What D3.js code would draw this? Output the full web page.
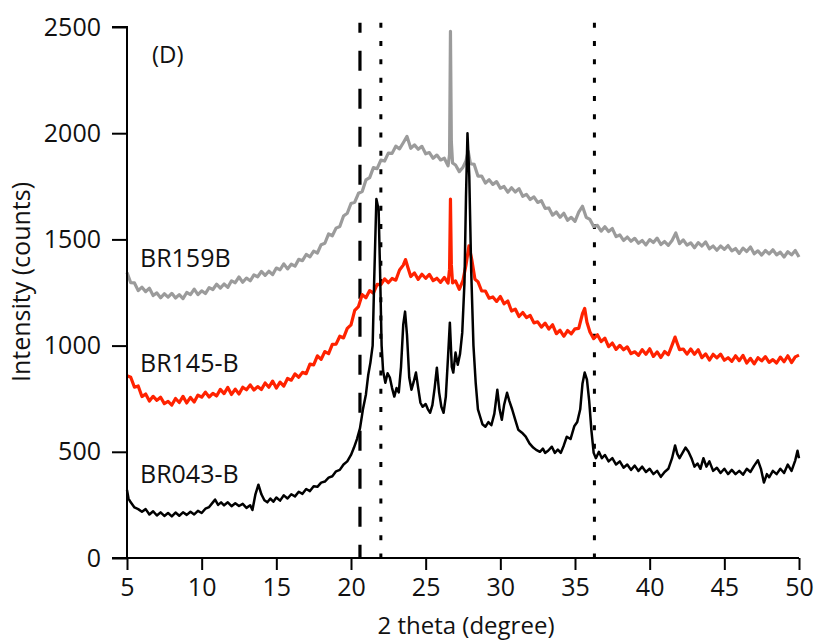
<!DOCTYPE html>
<html>
<head>
<meta charset="utf-8">
<script src="https://cdn.jsdelivr.net/npm/d3@7"></script>
<style>
  html, body { margin: 0; padding: 0; background: #ffffff; }
  svg { display: block; }
  text { font-family: "Open Sans", "Liberation Sans", sans-serif; fill: #111; }
</style>
</head>
<body>
<svg id="chart" width="816" height="644"></svg>
<script>
// ---------- data ----------
const seriesNames = ["BR159B", "BR145-B", "BR043-B"];
const xTicks = [5, 10, 15, 20, 25, 30, 35, 40, 45, 50];
const yTicks = [0, 500, 1000, 1500, 2000, 2500];
const panelLabel = "(D)";
const xTitle = "2 theta (degree)";
const yTitle = "Intensity (counts)";
const dashedRefLines = [20.6];
const dottedRefLines = [22.0, 36.3];

// BR159B [2theta, counts]
const br159b = [
[5.00,1344],[5.25,1296],[5.50,1295],[5.75,1259],[6.00,1275],[6.25,1254],[6.50,1270],[6.75,1236],
[7.00,1248],[7.25,1225],[7.50,1244],[7.75,1228],[8.00,1246],[8.25,1224],[8.50,1240],[8.75,1221],
[9.00,1250],[9.25,1240],[9.50,1266],[9.75,1240],[10.00,1258],[10.25,1245],[10.50,1273],[10.75,1264],
[11.00,1289],[11.25,1271],[11.50,1290],[11.75,1274],[12.00,1305],[12.25,1296],[12.50,1323],[12.75,1298],
[13.00,1318],[13.25,1305],[13.50,1333],[13.75,1324],[14.00,1349],[14.25,1331],[14.50,1350],[14.75,1334],
[15.00,1365],[15.25,1357],[15.50,1385],[15.75,1361],[16.00,1383],[16.25,1374],[16.50,1406],[16.75,1400],
[17.00,1429],[17.25,1418],[17.50,1445],[17.75,1436],[18.00,1475],[18.25,1482],[18.50,1526],[18.75,1517],
[19.00,1553],[19.25,1561],[19.50,1610],[19.75,1623],[20.00,1669],[20.25,1675],[20.50,1717],[20.75,1725],
[21.00,1780],[21.25,1791],[21.50,1838],[21.75,1833],[22.00,1873],[22.25,1869],[22.50,1906],[22.75,1905],
[23.00,1939],[23.25,1926],[23.50,1955],[23.75,1985],[24.00,1929],[24.25,1945],[24.50,1924],[24.75,1938],
[25.00,1903],[25.25,1909],[25.50,1882],[25.75,1897],[26.00,1874],[26.25,1882],[26.50,1846],[26.60,1900],
[26.66,2480],[26.72,1960],[26.80,1860],[27.00,1850],[27.25,1819],[27.50,1840],[27.70,1870],[27.85,1915],
[28.00,1856],[28.25,1853],[28.50,1798],[28.75,1798],[29.00,1765],[29.25,1781],[29.50,1759],[29.75,1772],
[30.00,1741],[30.25,1749],[30.50,1722],[30.75,1743],[31.00,1723],[31.25,1739],[31.50,1703],[31.75,1712],
[32.00,1688],[32.25,1700],[32.50,1674],[32.75,1682],[33.00,1646],[33.25,1648],[33.50,1614],[33.75,1629],
[34.00,1604],[34.25,1623],[34.50,1590],[34.75,1604],[35.00,1585],[35.25,1628],[35.50,1656],[35.75,1604],
[36.00,1594],[36.25,1561],[36.50,1566],[36.75,1539],[37.00,1560],[37.25,1537],[37.50,1551],[37.75,1513],
[38.00,1521],[38.25,1495],[38.50,1511],[38.75,1491],[39.00,1505],[39.25,1482],[39.50,1495],[39.75,1474],
[40.00,1499],[40.25,1485],[40.50,1506],[40.75,1476],[41.00,1490],[41.25,1472],[41.50,1495],[41.75,1530],
[42.00,1480],[42.25,1498],[42.50,1473],[42.75,1484],[43.00,1461],[43.25,1485],[43.50,1469],[43.75,1488],
[44.00,1456],[44.25,1469],[44.50,1449],[44.75,1469],[45.00,1453],[45.25,1471],[45.50,1446],[45.75,1457],
[46.00,1434],[46.25,1459],[46.50,1443],[46.75,1464],[47.00,1432],[47.25,1446],[47.50,1426],[47.75,1448],
[48.00,1432],[48.25,1451],[48.50,1427],[48.75,1440],[49.00,1417],[49.25,1442],[49.50,1427],[49.75,1448],
[50.00,1417]
];

// BR145-B [2theta, counts]
const br145b = [
[5.00,858],[5.25,851],[5.50,804],[5.75,810],[6.00,760],[6.25,772],[6.50,739],[6.75,761],
[7.00,742],[7.25,757],[7.50,727],[7.75,737],[8.00,720],[8.25,751],[8.50,732],[8.75,761],
[9.00,730],[9.25,756],[9.50,734],[9.75,767],[10.00,757],[10.25,781],[10.50,758],[10.75,775],
[11.00,763],[11.25,794],[11.50,774],[11.75,803],[12.00,770],[12.25,795],[12.50,772],[12.75,804],
[13.00,792],[13.25,815],[13.50,791],[13.75,807],[14.00,793],[14.25,824],[14.50,804],[14.75,833],
[15.00,800],[15.25,828],[15.50,809],[15.75,845],[16.00,837],[16.25,867],[16.50,851],[16.75,874],
[17.00,868],[17.25,913],[17.50,909],[17.75,952],[18.00,935],[18.25,972],[18.50,962],[18.75,1006],
[19.00,1007],[19.25,1044],[19.50,1036],[19.75,1081],[20.00,1098],[20.25,1166],[20.50,1184],[20.75,1240],
[21.00,1225],[21.25,1259],[21.50,1247],[21.75,1288],[22.00,1287],[22.25,1314],[22.50,1296],[22.75,1316],
[23.00,1308],[23.25,1356],[23.50,1379],[23.65,1405],[23.80,1370],[24.00,1325],[24.25,1342],[24.50,1312],
[24.75,1336],[25.00,1317],[25.25,1335],[25.50,1306],[25.75,1317],[26.00,1298],[26.25,1321],[26.50,1294],
[26.60,1360],[26.66,1690],[26.72,1380],[26.80,1295],[27.00,1305],[27.25,1265],[27.50,1307],[27.70,1380],
[27.90,1470],[28.10,1400],[28.30,1312],[28.50,1301],[28.75,1257],[29.00,1257],[29.25,1223],[29.50,1229],
[29.75,1208],[30.00,1231],[30.25,1197],[30.50,1210],[30.75,1163],[31.00,1172],[31.25,1137],[31.50,1156],
[31.75,1132],[32.00,1142],[32.25,1107],[32.50,1112],[32.75,1087],[33.00,1106],[33.25,1078],[33.50,1098],
[33.75,1056],[34.00,1072],[34.25,1044],[34.50,1071],[34.75,1055],[35.00,1079],[35.25,1081],[35.50,1150],
[35.65,1175],[35.80,1110],[36.00,1064],[36.25,1033],[36.50,1051],[36.75,1019],[37.00,1035],[37.25,995],
[37.50,1012],[37.75,982],[38.00,1001],[38.25,980],[38.50,994],[38.75,962],[39.00,971],[39.25,954],
[39.50,981],[39.75,959],[40.00,985],[40.25,949],[40.50,970],[40.75,944],[41.00,972],[41.25,957],
[41.50,1002],[41.70,1040],[41.85,1010],[42.00,981],[42.25,984],[42.50,960],[42.75,984],[43.00,959],
[43.25,981],[43.50,943],[43.75,961],[44.00,932],[44.25,959],[44.50,942],[44.75,960],[45.00,931],
[45.25,943],[45.50,926],[45.75,952],[46.00,929],[46.25,954],[46.50,918],[46.75,940],[47.00,914],
[47.25,943],[47.50,928],[47.75,948],[48.00,921],[48.25,934],[48.50,918],[48.75,946],[49.00,924],
[49.25,952],[49.50,920],[49.75,947],[50.00,955]
];

// BR043-B [2theta, counts]
const br043b = [
[5.00,320],[5.10,280],[5.25,262],[5.50,238],[5.75,230],[6.00,218],[6.25,230],[6.50,205],[6.75,220],
[7.00,200],[7.25,215],[7.50,198],[7.75,212],[8.00,196],[8.25,214],[8.50,199],[8.75,215],[9.00,203],
[9.25,218],[9.50,205],[9.75,222],[10.00,212],[10.25,232],[10.50,240],[10.75,262],[10.90,275],[11.10,250],
[11.30,262],[11.50,248],[11.75,262],[12.00,244],[12.25,258],[12.50,245],[12.75,255],[13.00,236],[13.25,248],
[13.40,226],[13.60,300],[13.80,345],[14.00,300],[14.20,272],[14.40,262],[14.60,280],[14.80,265],[15.00,285],
[15.25,270],[15.50,295],[15.75,280],[16.00,300],[16.25,290],[16.50,312],[16.75,302],[17.00,325],[17.25,315],
[17.50,338],[17.75,335],[18.00,355],[18.25,360],[18.50,378],[18.75,385],[19.00,408],[19.25,415],[19.50,440],
[19.75,455],[20.00,485],[20.20,520],[20.40,560],[20.60,610],[20.80,700],[21.00,770],[21.15,860],[21.30,920],
[21.45,1000],[21.55,1300],[21.70,1690],[21.85,1640],[21.95,1340],[22.05,1000],[22.15,880],[22.30,825],[22.45,870],
[22.60,850],[22.75,800],[22.90,760],[23.05,800],[23.20,780],[23.35,900],[23.50,1100],[23.62,1160],[23.75,1050],
[23.90,850],[24.05,792],[24.20,830],[24.35,873],[24.50,800],[24.65,731],[24.80,712],[25.00,725],[25.15,700],
[25.30,684],[25.45,720],[25.60,800],[25.75,896],[25.90,780],[26.05,712],[26.20,684],[26.35,760],[26.50,950],
[26.62,1108],[26.75,900],[26.85,873],[27.00,967],[27.15,910],[27.30,960],[27.45,1061],[27.60,1300],[27.70,1700],
[27.80,2000],[27.92,1800],[28.05,1350],[28.20,1000],[28.35,825],[28.50,700],[28.65,665],[28.80,630],[29.00,618],
[29.20,640],[29.40,625],[29.60,680],[29.80,792],[29.95,700],[30.10,651],[30.25,720],[30.45,778],[30.60,740],
[30.80,698],[31.00,650],[31.20,604],[31.45,590],[31.70,571],[31.95,540],[32.20,520],[32.40,509],[32.65,500],
[32.85,515],[33.00,495],[33.20,505],[33.45,524],[33.65,495],[33.85,510],[34.05,495],[34.25,530],[34.45,571],
[34.70,560],[34.95,620],[35.15,640],[35.35,700],[35.50,820],[35.65,873],[35.80,840],[35.95,740],[36.10,600],
[36.25,495],[36.40,470],[36.60,500],[36.80,470],[37.00,485],[37.25,455],[37.50,470],[37.75,440],[38.00,455],
[38.25,425],[38.50,440],[38.75,415],[39.00,435],[39.25,410],[39.50,430],[39.75,405],[40.00,420],[40.25,395],
[40.50,410],[40.75,382],[41.00,405],[41.25,420],[41.50,470],[41.70,530],[41.85,490],[42.00,470],[42.20,495],
[42.40,520],[42.60,500],[42.80,470],[43.00,430],[43.20,445],[43.40,420],[43.60,470],[43.80,430],[44.00,455],
[44.25,410],[44.50,425],[44.75,400],[45.00,420],[45.25,395],[45.50,415],[45.75,395],[46.00,410],[46.25,392],
[46.50,420],[46.75,405],[47.00,435],[47.25,460],[47.45,420],[47.65,355],[47.85,395],[48.00,380],[48.25,410],
[48.50,395],[48.75,420],[49.00,400],[49.25,440],[49.50,410],[49.75,460],[49.90,505],[50.00,470]
];

const seriesData = [br159b, br145b, br043b];
const seriesColors = ["#9b9b9b", "#ff2200", "#000000"];

// ---------- layout ----------
const svg = d3.select("#chart");
const x = d3.scaleLinear().domain([5, 50]).range([127, 799]);
const y = d3.scaleLinear().domain([0, 2500]).range([558, 27]);

// reference lines
const refTop = 2520;
svg.selectAll("line.dashed").data(dashedRefLines).enter().append("line")
  .attr("x1", d => x(d)).attr("x2", d => x(d))
  .attr("y1", y(refTop)).attr("y2", y(0))
  .attr("stroke", "#000").attr("stroke-width", 3.2)
  .attr("stroke-dasharray", "20,18").attr("stroke-dashoffset", 10);
svg.selectAll("line.dotted").data(dottedRefLines).enter().append("line")
  .attr("x1", d => x(d)).attr("x2", d => x(d))
  .attr("y1", y(refTop)).attr("y2", y(0))
  .attr("stroke", "#000").attr("stroke-width", 3)
  .attr("stroke-dasharray", "5,13.3");

// series
const line = d3.line().x(d => x(d[0])).y(d => y(d[1]));
svg.selectAll("path.series").data(seriesData).enter().append("path")
  .attr("class", "series")
  .attr("d", line)
  .attr("fill", "none")
  .attr("stroke", (d, i) => seriesColors[i])
  .attr("stroke-width", (d, i) => i === 2 ? 2.5 : 3.2)
  .attr("stroke-linejoin", "round");

// axes
const yAxis = d3.axisLeft(y).tickValues(yTicks).tickSize(15).tickPadding(11).tickFormat(d3.format("d"));
const xAxis = d3.axisBottom(x).tickValues(xTicks).tickSize(12).tickPadding(8).tickFormat(d3.format("d"));

const gy = svg.append("g").attr("transform", "translate(127,0)").call(yAxis);
const gx = svg.append("g").attr("transform", "translate(0,558)").call(xAxis);
[gx, gy].forEach(g => {
  g.select(".domain").attr("stroke", "#000").attr("stroke-width", 2);
  g.selectAll(".tick line").attr("stroke", "#000").attr("stroke-width", 2);
  g.selectAll(".tick text").attr("fill", "#111")
    .style("font-family", '"Open Sans", sans-serif').style("font-size", "25px");
});
gy.select(".domain").attr("d", "M-15,27H0V558H-15");
gx.select(".domain").attr("d", "M127,0H799");

// axis titles
svg.append("text").attr("x", 466).attr("y", 634).attr("text-anchor", "middle")
  .style("font-size", "24px").text(xTitle);
svg.append("text").attr("transform", "translate(30,282) rotate(-90)").attr("text-anchor", "middle")
  .style("font-size", "25px").text(yTitle);

// panel label
svg.append("text").attr("x", 152).attr("y", 63).style("font-size", "24px").text(panelLabel);

// series labels
const labelBaselines = [1370, 876, 355];
svg.selectAll("text.slabel").data(seriesNames).enter().append("text")
  .attr("class", "slabel")
  .attr("x", 140).attr("y", (d, i) => y(labelBaselines[i]))
  .style("font-size", "25px").text(d => d);
</script>
</body>
</html>
